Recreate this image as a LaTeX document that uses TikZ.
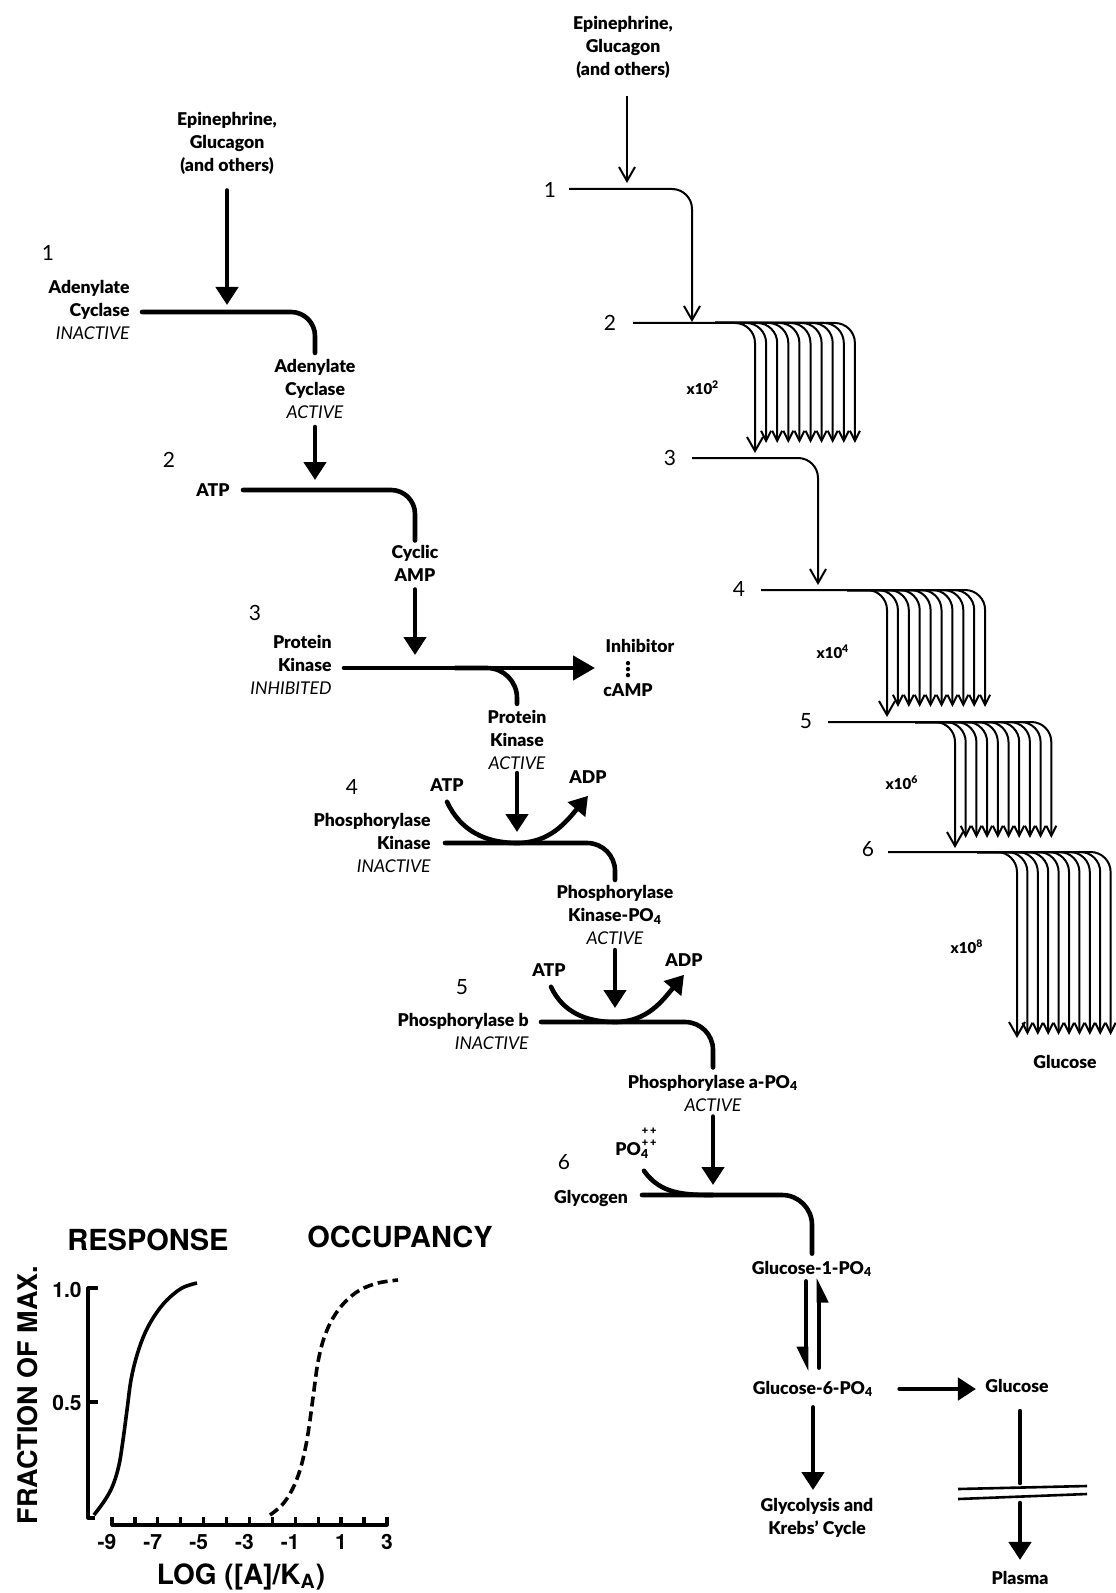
\documentclass[tikz,border=0pt]{standalone}
\usepackage{fontspec}
\setmainfont{Lato}[BoldFont={Lato Black}]
\newfontfamily\grafont{TeX Gyre Heros}
\usepackage{tikz}
\usetikzlibrary{arrows.meta,calc}

\newcommand{\stat}[1]{{\mdseries\itshape #1}}
\newcommand{\phos}{PO\textsubscript{4}}

\begin{document}
\begin{tikzpicture}[x=0.5pt, y=-0.5pt, line join=round,
  lbl/.style={font=\fontsize{8.8}{11.5}\selectfont\bfseries, align=center, inner sep=0pt},
  num/.style={font=\fontsize{10.5}{12}\selectfont, inner sep=0pt},
  mult/.style={font=\fontsize{7.5}{9}\selectfont\bfseries, inner sep=0pt},
  thk/.style={line width=2.3pt, line cap=round},
  thkarr/.style={thk, -{Triangle[width=11pt,length=9pt]}},
  harp/.style={thk, -{Triangle[right,width=9pt,length=10pt]}},
  thn/.style={line width=1pt, rounded corners=10pt},
  bigbarb/.style={-{Straight Barb[width=8pt,length=7pt]}},
  smbarb/.style={-{Straight Barb[width=5pt,length=5pt]}},
  grf/.style={font=\grafont\bfseries\fontsize{10.5}{12}\selectfont, inner sep=0pt},
  axl/.style={line width=1.6pt},
]
  \useasboundingbox (0,0) rectangle (1115,1593);

  % --- cascade, left column
  \node[lbl] (epiL) at (227,143) {Epinephrine,\\Glucagon\\(and others)};
  \node[num] (nL1) at (48,253) {1};
  \node[lbl, align=right, anchor=east] (acI) at (130,310) {Adenylate\\Cyclase\\\stat{INACTIVE}};
  \node[lbl] (acA) at (315,389) {Adenylate\\Cyclase\\\stat{ACTIVE}};
  \node[num] (nL2) at (169,460) {2};
  \node[lbl] (atp1) at (213,490) {ATP};
  \node[lbl] (camp) at (415,563) {Cyclic\\AMP};
  \node[num] (nL3) at (255,613) {3};
  \node[lbl, align=right, anchor=east] (pkI) at (332,665) {Protein\\Kinase\\\stat{INHIBITED}};
  \node[lbl] (inhT) at (640,646) {Inhibitor};
  \node[lbl] (campT) at (628,690) {cAMP};
  \node[lbl] (pkA) at (517,740) {Protein\\Kinase\\\stat{ACTIVE}};
  \node[num] (nL4) at (352,787) {4};
  \node[lbl] (atp2) at (447,785) {ATP};
  \node[lbl] (adp2) at (588,777) {ADP};
  \node[lbl, align=right, anchor=east] (phkI) at (431,843) {Phosphorylase\\Kinase\\\stat{INACTIVE}};
  \node[lbl] (phkA) at (615,915) {Phosphorylase\\Kinase-\phos\\\stat{ACTIVE}};
  \node[num] (nL5) at (462,987) {5};
  \node[lbl] (atp3) at (549,970) {ATP};
  \node[lbl] (adp3) at (684,960) {ADP};
  \node[lbl, align=right, anchor=east] (phbI) at (529,1031) {Phosphorylase b\\\stat{INACTIVE}};
  \node[lbl] (phaA) at (713,1093) {Phosphorylase a-\phos\\\stat{ACTIVE}};
  \node[lbl] (po4) at (636,1143) {\phos\hspace{-3.6pt}\raisebox{4.5pt}{\fontsize{5.5}{4}\selectfont\shortstack{+\,+\\+\,+}}};
  \node[num] (nL6) at (564,1162) {6};
  \node[lbl] (glyc) at (591,1198) {Glycogen};
  \node[lbl] (g1p) at (812,1269) {Glucose-1-\phos};
  \node[lbl] (g6p) at (813,1389) {Glucose-6-\phos};
  \node[lbl] (glyk) at (817,1518) {Glycolysis and\\Krebs’ Cycle};
  \node[lbl] (gluc) at (1017,1386) {Glucose};
  \node[lbl] (plasma) at (1020,1578) {Plasma};

  \coordinate (sL1) at (142,312);
  \coordinate (sL2) at (243,490);
  \coordinate (sL3) at (344,668);
  \coordinate (eL3) at (595,668);
  \coordinate (bL3) at (455,668);
  \coordinate (sL4) at (445,843);
  \coordinate (sL5) at (541,1022);
  \coordinate (sL6) at (642,1195);
  \coordinate (bar) at (1020,1492);

  \draw[thkarr] ([yshift=-8pt]epiL.south) -- ([yshift=3.5pt]epiL.south |- sL1);
  \draw[thk, rounded corners=12pt] (sL1) -| ([yshift=3pt]acA.north);
  \draw[thkarr] ([yshift=-4pt]acA.south) -- ([yshift=5pt]acA.south |- sL2);
  \draw[thk, rounded corners=12pt] (sL2) -| ([yshift=2pt]camp.north);
  \draw[thkarr] ([yshift=-4pt]camp.south) -- ([yshift=6.5pt]camp.south |- sL3);
  \draw[thk, -{Triangle[width=12pt,length=11pt]}] (sL3) -- (eL3);
  \draw[thk, rounded corners=15pt] (bL3) -| ([yshift=3pt]pkA.north);
  \draw[line width=2.2pt, line cap=round, dash pattern=on 0pt off 3pt]
    ([yshift=4pt]campT.north) -- ++(0,-13);
  \draw[thkarr] ([yshift=-1.5pt]pkA.south) -- ([yshift=5.5pt]pkA.south |- sL4);
  \draw[thkarr] ([yshift=-5pt]atp2.south) to[out=-65,in=180] (pkA.south |- sL4)
    to[out=0,in=-130] ([yshift=-6pt]adp2.south);
  \draw[thk, rounded corners=14pt] (sL4) -| ([yshift=2.5pt]phkA.north);
  \draw[thkarr] ([yshift=-2.5pt]phkA.south) -- ([yshift=7pt]phkA.south |- sL5);
  \draw[thkarr] ([xshift=1pt,yshift=-5pt]atp3.south) to[out=-65,in=180] (phkA.south |- sL5)
    to[out=0,in=-130] ([yshift=-4pt]adp3.south);
  \draw[thk, rounded corners=14pt] (sL5) -| ([yshift=3.5pt]phaA.north);
  \draw[thkarr] ([yshift=-2.5pt]phaA.south) -- ([yshift=5pt]phaA.south |- sL6);
  \draw[thk] ([xshift=4pt,yshift=-6pt]po4.south) to[out=-55,in=180] (phaA.south |- sL6);
  \draw[thk, rounded corners=15pt] (sL6) -| ([yshift=3.5pt]g1p.north);
  \draw[harp] ([xshift=-3pt,yshift=-2pt]g1p.south) -- ([xshift=-3pt,yshift=4.5pt]g1p.south |- g6p.north);
  \draw[harp] ([xshift=3.5pt,yshift=6.5pt]g1p.south |- g6p.north) -- ([xshift=3.5pt,yshift=0pt]g1p.south);
  \draw[thkarr] ([yshift=-5pt]g6p.south) -- ([yshift=4pt]g6p.south |- glyk.north);
  \draw[thkarr] ([xshift=13pt]g6p.east) -- ([xshift=-4.5pt]gluc.west |- g6p.east);
  \draw[thk] ([yshift=-9pt]gluc.south -| bar) -- ([yshift=4.5pt]bar);
  \draw[line width=1.3pt] ($(bar)+(-62,-3)$) -- ($(bar)+(67,-6)$);
  \draw[line width=1.3pt] ($(bar)+(-62,7)$) -- ($(bar)+(67,2)$);
  \draw[thkarr] ([yshift=-5.5pt]bar) -- ([yshift=5.5pt]plasma.north);

  % --- amplification, right column
  \node[lbl] (epiR) at (623,47) {Epinephrine,\\Glucagon\\(and others)};
  \node[num] (nR1) at (550,190) {1};
  \node[num] (nR2) at (610,323) {2};
  \node[num] (nR3) at (670,458) {3};
  \node[num] (nR4) at (739,589) {4};
  \node[num] (nR5) at (806,721) {5};
  \node[num] (nR6) at (868,849) {6};
  \node[mult] (m2) at (703,388) {x10\textsuperscript{2}};
  \node[mult] (m4) at (833,652) {x10\textsuperscript{4}};
  \node[mult] (m6) at (902,783) {x10\textsuperscript{6}};
  \node[mult] (m8) at (967,947) {x10\textsuperscript{8}};
  \node[lbl] (glucR) at (1065,1062) {Glucose};

  \coordinate (sR1) at (569,189);
  \coordinate (sR2) at (633,323);
  \coordinate (sR3) at (692,458);
  \coordinate (sR4) at (761,590);
  \coordinate (sR5) at (828,722);
  \coordinate (sR6) at (888,852);

  \draw[thn, bigbarb] ([yshift=-9pt]epiR.south -| 627,0) -- ([yshift=3pt]sR1 -| 627,0);
  \draw[thn, bigbarb] (sR1) -| ($(sR2)+(59,-1)$);
  \draw[thn, bigbarb] (sR3) -| ($(sR4)+(57,-5)$);
  \foreach \lev/\yl/\xa/\dx/\ta/\tb in {2/323/755/11.1/453/443, 4/590/887/10.9/717/707,
      5/722/955/10.7/848/838, 6/852/1017/10.4/1038/1035}{
    \draw[thn, bigbarb] (sR\lev) -| (\xa,\ta);
    \foreach \i in {1,...,9}
      \draw[thn, smbarb] (\xa-40,\yl) -| (\xa+\i*\dx,\tb);
  }

  % --- dose response graph
  \node[grf, font=\grafont\bfseries\fontsize{14.5}{16}\selectfont] (resp) at (148,1240) {RESPONSE};
  \node[grf, font=\grafont\bfseries\fontsize{14.5}{16}\selectfont] (occ) at (400,1237) {OCCUPANCY};
  \node[grf, font=\grafont\bfseries\fontsize{13.5}{16}\selectfont, rotate=90] (yax) at (28,1395) {FRACTION OF MAX.};
  \node[grf, font=\grafont\bfseries\fontsize{14}{16}\selectfont] (xax) at (241,1577) {LOG ([A]/K\textsubscript{A})};
  \node[grf, anchor=east] (one) at (82,1290) {1.0};
  \node[grf, anchor=east] (half) at (82,1403) {0.5};
  \draw[axl] (98,1288) -- (88,1288) -- (88,1518) -- (95,1518);
  \draw[axl] (88,1402) -- (98,1402);
  \draw[axl] (112,1517) -- (112,1525) -- (387,1525) -- (387,1517);
  \foreach \k in {1,...,11}
    \draw[axl] (112+\k*22.9,1525) -- ++(0,-8);
  \foreach \v [count=\k from 0] in {-9,-7,-5,-3,-1}
    \node[grf] at (107+\k*45.8,1542) {\v};
  \node[grf] at (341,1542) {1};
  \node[grf] at (387,1542) {3};
  \draw[axl, line width=1.8pt] plot[smooth, tension=0.6] coordinates {(94,1515) (105,1500) (113,1485)
    (119,1465) (123,1440) (127,1410) (131,1380) (137,1355) (145,1333) (155,1315) (167,1300)
    (182,1288) (197,1283)};
  \draw[axl, line width=1.8pt, dash pattern=on 5pt off 2.5pt] plot[smooth, tension=0.6] coordinates {(270,1515)
    (282,1505) (292,1490) (300,1470) (306,1445) (310,1420) (314,1390) (318,1362) (324,1338)
    (333,1318) (345,1302) (360,1290) (378,1283) (398,1280)};
\end{tikzpicture}
\end{document}
